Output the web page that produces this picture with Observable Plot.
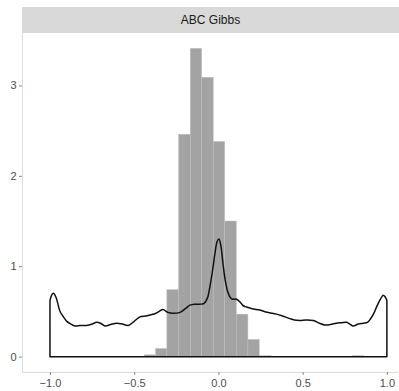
<!DOCTYPE html>
<html>
<head>
<meta charset="utf-8">
<script src="https://cdn.jsdelivr.net/npm/d3@7"></script>
<script src="https://cdn.jsdelivr.net/npm/@observablehq/plot@0.6"></script>
<style>
  html, body { margin: 0; padding: 0; background: #fff; }
  #wrap { position: relative; width: 399px; height: 391px; font-family: "Liberation Sans", Arial, sans-serif; }
  #strip { position: absolute; left: 22px; top: 7px; width: 377px; height: 26px; background: #d9d9d9;
           display: flex; align-items: center; justify-content: center; font-size: 12px; color: #1a1a1a; }
  #chart { position: absolute; left: 0; top: 0; }
</style>
</head>
<body>
<div id="wrap">
  <div id="chart"></div>
  <div id="strip"></div>
</div>
<script>
const panelTitle = "ABC Gibbs";

// Histogram bins (left edge, right edge, density)
const binX1 = [-0.440, -0.373, -0.306, -0.236, -0.167, -0.100, -0.031, 0.037, 0.106, 0.175, 0.242, 0.796];
const binX2 = [-0.373, -0.306, -0.236, -0.167, -0.100, -0.031, 0.037, 0.106, 0.175, 0.242, 0.312, 0.863];
const binY  = [0.02, 0.09, 0.74, 2.46, 3.41, 3.09, 2.38, 1.50, 0.47, 0.19, 0.01, 0.01];

// Density curve
const densX = [-1.0, -0.99, -0.98, -0.965, -0.94, -0.92, -0.90, -0.875, -0.852, -0.82, -0.782, -0.75, -0.723, -0.70,
  -0.673, -0.64, -0.604, -0.57, -0.535, -0.50, -0.466, -0.43, -0.406, -0.37, -0.33, -0.30, -0.27, -0.228, -0.19,
  -0.169, -0.14, -0.11, -0.085, -0.065, -0.05, -0.035, -0.02, -0.008, 0.003, 0.015, 0.027, 0.04, 0.055, 0.07,
  0.085, 0.108, 0.13, 0.15, 0.167, 0.20, 0.246, 0.29, 0.345, 0.38, 0.424, 0.45, 0.484, 0.52, 0.563, 0.60, 0.632,
  0.665, 0.70, 0.73, 0.76, 0.78, 0.80, 0.83, 0.86, 0.885, 0.90, 0.92, 0.939, 0.96, 0.978, 0.99, 1.0];
const densY = [0.62, 0.68, 0.70, 0.66, 0.50, 0.44, 0.39, 0.36, 0.34, 0.345, 0.345, 0.36, 0.38, 0.37,
  0.34, 0.355, 0.37, 0.36, 0.345, 0.39, 0.44, 0.45, 0.46, 0.48, 0.52, 0.49, 0.48, 0.49, 0.54,
  0.57, 0.58, 0.58, 0.59, 0.65, 0.78, 0.95, 1.15, 1.27, 1.30, 1.22, 1.03, 0.85, 0.72, 0.655,
  0.635, 0.635, 0.60, 0.56, 0.55, 0.53, 0.515, 0.49, 0.47, 0.45, 0.42, 0.405, 0.40, 0.405, 0.40, 0.37, 0.35,
  0.355, 0.37, 0.375, 0.38, 0.36, 0.34, 0.36, 0.37, 0.38, 0.41, 0.47, 0.55, 0.63, 0.68, 0.66, 0.62];

const xTicks = [-1, -0.5, 0, 0.5, 1];
const yTicks = [0, 1, 2, 3];

const bins = binX1.map((x1, i) => ({x1, x2: binX2[i], y: binY[i]}));
const dens = densX.map((x, i) => ({x, y: densY[i]}));

document.getElementById("strip").textContent = panelTitle;

const chart = Plot.plot({
  width: 399,
  height: 391,
  marginTop: 33,
  marginLeft: 22,
  marginRight: 1,
  marginBottom: 19,
  style: { fontFamily: "Liberation Sans, Arial, sans-serif", fontSize: "11px", color: "#4d4d4d", background: "transparent" },
  x: { domain: [-1.166, 1.066], label: null },
  y: { domain: [-0.17, 3.58], label: null },
  marks: [
    Plot.ruleX([-1.166], {stroke: "#dcdcdc", strokeWidth: 1}),
    Plot.ruleY([-0.17], {stroke: "#dcdcdc", strokeWidth: 1}),
    Plot.rectY(bins, {x1: "x1", x2: "x2", y1: 0, y2: "y", fill: "#a3a3a3", stroke: "#bdbdbd", strokeWidth: 0.5}),
    Plot.areaY(dens, {x: "x", y: "y", fill: "none", stroke: "#111", strokeWidth: 1.5, curve: "catmull-rom"}),
    Plot.axisX(xTicks, {tickSize: 3, tickPadding: 4, stroke: "#8a8a8a", fill: "#4d4d4d",
      tickFormat: d => d3.format(".1f")(d).replace("-", "\u2212"), fontSize: 11}),
    Plot.axisY(yTicks, {tickSize: 3, tickPadding: 3, stroke: "#8a8a8a", fill: "#4d4d4d",
      tickFormat: d => String(d), fontSize: 11})
  ]
});
document.getElementById("chart").appendChild(chart);
</script>
</body>
</html>
